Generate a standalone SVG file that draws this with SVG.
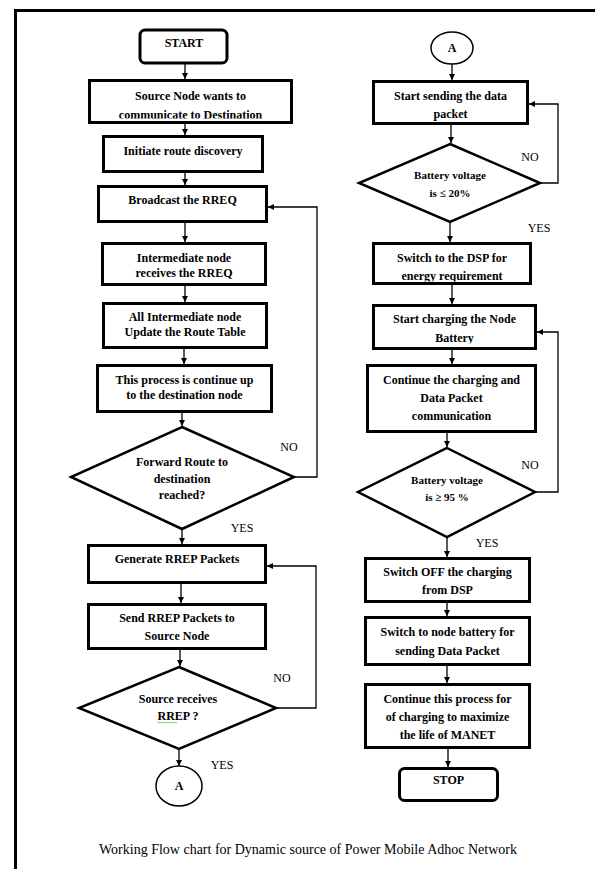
<svg xmlns="http://www.w3.org/2000/svg" width="595" height="869" viewBox="0 0 595 869">
<defs>
<style>
.box{fill:#fff;stroke:#000;stroke-width:3}
.dia{fill:#fff;stroke:#000;stroke-width:2.5}
.term{fill:#fff;stroke:#000;stroke-width:3}
.circ{fill:#fff;stroke:#000;stroke-width:1.5}
.t{font-family:"Liberation Serif","Times New Roman",serif;font-weight:bold;font-size:12px;fill:#000;text-anchor:middle}
.s{font-size:11px}
.lbl{font-family:"Liberation Serif","Times New Roman",serif;font-size:12px;fill:#000;text-anchor:middle}
.cap{font-family:"Liberation Serif","Times New Roman",serif;font-size:14px;fill:#000;text-anchor:middle}
.c{fill:none;stroke:#000;stroke-width:1.3}
</style>
<marker id="ah" markerWidth="7" markerHeight="7" refX="6" refY="3" orient="auto" markerUnits="userSpaceOnUse">
<path d="M0,0 L6,3 L0,6 z" fill="#000"/>
</marker>
<clipPath id="cp1"><rect x="80" y="80" width="220" height="38.5"/></clipPath>
<clipPath id="cp2"><rect x="370" y="240" width="170" height="41.5"/></clipPath>
<clipPath id="cp3"><rect x="370" y="300" width="170" height="43.5"/></clipPath>
</defs>
<rect width="595" height="869" fill="#fff"/>
<g id="frame">
<path d="M15.5,869 L15.5,10.5 L595,10.5" fill="none" stroke="#000" stroke-width="3"/>
</g>
<g id="connectors">
<path class="c" d="M185,64 V79" marker-end="url(#ah)"/>
<path class="c" d="M185,124 V135" marker-end="url(#ah)"/>
<path class="c" d="M185,173 V185" marker-end="url(#ah)"/>
<path class="c" d="M185,223 V242" marker-end="url(#ah)"/>
<path class="c" d="M185,286 V302" marker-end="url(#ah)"/>
<path class="c" d="M184,349 V364" marker-end="url(#ah)"/>
<path class="c" d="M182,413 V426" marker-end="url(#ah)"/>
<path class="c" d="M295,477 H317 V207 H268" marker-end="url(#ah)"/>
<path class="c" d="M182,530 V544" marker-end="url(#ah)"/>
<path class="c" d="M181,584 V603" marker-end="url(#ah)"/>
<path class="c" d="M180,650 V666" marker-end="url(#ah)"/>
<path class="c" d="M277,708 H316 V566 H267" marker-end="url(#ah)"/>
<path class="c" d="M179,750 V766" marker-end="url(#ah)"/>
<path class="c" d="M452,64 V80" marker-end="url(#ah)"/>
<path class="c" d="M451,125 V143" marker-end="url(#ah)"/>
<path class="c" d="M541,183 H558 V104 H529" marker-end="url(#ah)"/>
<path class="c" d="M450,223 V242" marker-end="url(#ah)"/>
<path class="c" d="M452,285 V304" marker-end="url(#ah)"/>
<path class="c" d="M452,350 V364" marker-end="url(#ah)"/>
<path class="c" d="M447,433 V447" marker-end="url(#ah)"/>
<path class="c" d="M536,492 H558 V332 H537" marker-end="url(#ah)"/>
<path class="c" d="M447,538 V557" marker-end="url(#ah)"/>
<path class="c" d="M447,603 V616" marker-end="url(#ah)"/>
<path class="c" d="M447,666 V683" marker-end="url(#ah)"/>
<path class="c" d="M448,749 V767" marker-end="url(#ah)"/>
</g>
<g id="labels">
<text class="lbl" x="289" y="451">NO</text>
<text class="lbl" x="242" y="532">YES</text>
<text class="lbl" x="282" y="682">NO</text>
<text class="lbl" x="222" y="769">YES</text>
<text class="lbl" x="530" y="161">NO</text>
<text class="lbl" x="539" y="232">YES</text>
<text class="lbl" x="530" y="469">NO</text>
<text class="lbl" x="487" y="547">YES</text>
</g>
<g id="start"><rect class="term" x="140" y="30" width="87" height="33" rx="5"/><text class="t" x="184" y="47">START</text></g>
<g id="source"><rect class="box" x="89.5" y="80.5" width="202" height="42"/><text class="t" x="190.5" y="100">Source Node wants to</text><text class="t" x="190.5" y="118.5" clip-path="url(#cp1)">communicate to Destination</text></g>
<g id="initiate"><rect class="box" x="103.5" y="136.5" width="159" height="35"/><text class="t" x="183" y="155">Initiate route discovery</text></g>
<g id="broadcast"><rect class="box" x="98.5" y="186.5" width="168" height="35"/><text class="t" x="182.5" y="204">Broadcast the RREQ</text></g>
<g id="intermediate"><rect class="box" x="102.5" y="243.5" width="163" height="41"/><text class="t" x="184" y="262">Intermediate node</text><text class="t" x="184" y="277">receives the RREQ</text></g>
<g id="update"><rect class="box" x="103.5" y="303.5" width="163" height="44"/><text class="t" x="185" y="321">All Intermediate node</text><text class="t" x="185" y="336">Update the Route Table</text></g>
<g id="process"><rect class="box" x="97.5" y="365.5" width="174" height="46"/><text class="t" x="184.5" y="384">This process is continue up</text><text class="t" x="184.5" y="399">to the destination node</text></g>
<g id="forward"><polygon class="dia" points="182,427 294,477 182,529 71,477"/><text class="t" x="182" y="466">Forward Route to</text><text class="t" x="182" y="483">destination</text><text class="t" x="182" y="499">reached?</text></g>
<g id="generate"><rect class="box" x="88.5" y="545.5" width="177" height="37"/><text class="t" x="177" y="563">Generate RREP Packets</text></g>
<g id="send"><rect class="box" x="88.5" y="604.5" width="177" height="44"/><text class="t" x="177" y="622">Send RREP Packets to</text><text class="t" x="177" y="640">Source Node</text></g>
<g id="receives"><polygon class="dia" points="179,667 276,708 179,749 79,708"/><text class="t" x="178" y="703">Source receives</text><text class="t" x="178" y="720">RREP ?</text><path d="M157,722.5 q1,-1 2,0 t2,0 t2,0 t2,0 t2,0 t2,0 t2,0 t2,0 t2,0 t2,0" fill="none" stroke="#6aa84f" stroke-width="0.8"/></g>
<g id="connA1"><ellipse class="circ" cx="179" cy="786" rx="23" ry="20"/><text class="t" x="179" y="790">A</text></g>
<g id="connA2"><ellipse class="circ" cx="452" cy="48" rx="21" ry="16"/><text class="t" x="452" y="52">A</text></g>
<g id="sending"><rect class="box" x="373.5" y="81.5" width="154" height="42"/><text class="t" x="450.5" y="100">Start sending the data</text><text class="t" x="450.5" y="118">packet</text></g>
<g id="batt20"><polygon class="dia" points="450,144 540,183 450,222 359,183"/><text class="t s" x="450" y="179">Battery voltage</text><text class="t s" x="450" y="197">is ≤ 20%</text></g>
<g id="dsp"><rect class="box" x="373.5" y="243.5" width="157" height="40"/><text class="t" x="452" y="262">Switch to the DSP for</text><text class="t" x="452" y="280" clip-path="url(#cp2)">energy requirement</text></g>
<g id="charging"><rect class="box" x="373.5" y="305.5" width="162" height="43"/><text class="t" x="454.5" y="323">Start charging the Node</text><text class="t" x="454.5" y="342" clip-path="url(#cp3)">Battery</text></g>
<g id="continue"><rect class="box" x="367.5" y="365.5" width="168" height="66"/><text class="t" x="451.5" y="384">Continue the charging and</text><text class="t" x="451.5" y="402">Data Packet</text><text class="t" x="451.5" y="420">communication</text></g>
<g id="batt95"><polygon class="dia" points="447,448 535,492 447,537 358,492"/><text class="t s" x="447" y="484">Battery voltage</text><text class="t s" x="447" y="501">is ≥ 95 %</text></g>
<g id="switchoff"><rect class="box" x="365.5" y="558.5" width="164" height="43"/><text class="t" x="447.5" y="576">Switch OFF the charging</text><text class="t" x="447.5" y="594">from DSP</text></g>
<g id="nodebattery"><rect class="box" x="365.5" y="617.5" width="164" height="47"/><text class="t" x="447.5" y="636">Switch to node battery for</text><text class="t" x="447.5" y="655">sending Data Packet</text></g>
<g id="maximize"><rect class="box" x="365.5" y="684.5" width="164" height="63"/><text class="t" x="447.5" y="703">Continue this process for</text><text class="t" x="447.5" y="721">of charging to maximize</text><text class="t" x="447.5" y="739">the life of MANET</text></g>
<g id="stop"><rect class="term" x="399.5" y="768.5" width="98" height="32" rx="5"/><text class="t" x="448.5" y="784">STOP</text></g>
<g id="caption"><text class="cap" x="308" y="854">Working Flow chart for Dynamic source of Power Mobile Adhoc Network</text></g>
</svg>
